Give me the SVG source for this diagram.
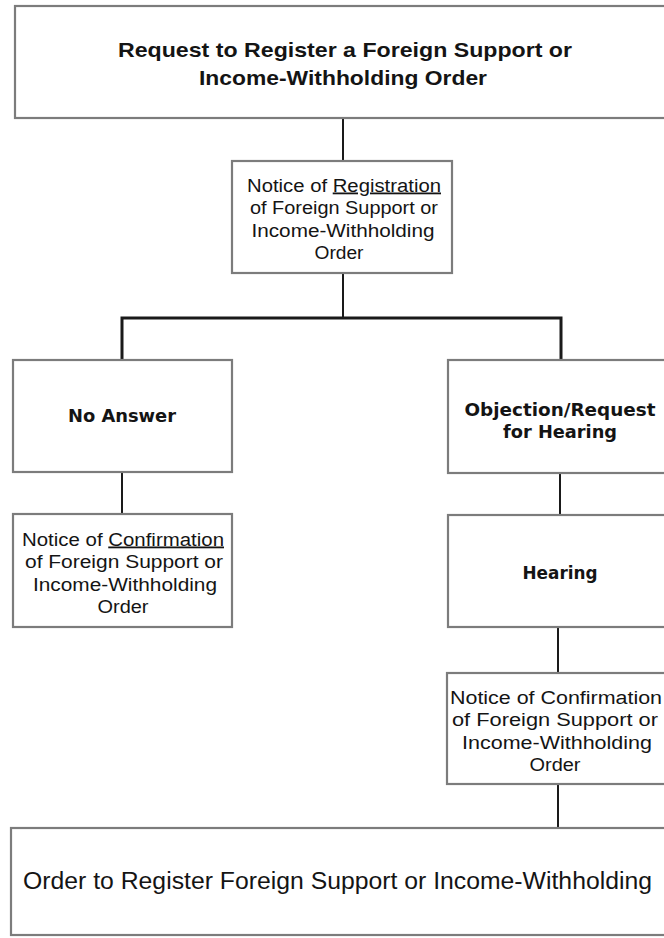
<svg xmlns="http://www.w3.org/2000/svg" width="664" height="938" viewBox="0 0 664 938">
<style>
.box{fill:#fff;stroke:#7c7c7c;stroke-width:2.2}
.conn{stroke:#1a1a1a;stroke-width:2;fill:none}
.bar{stroke:#1a1a1a;stroke-width:3;fill:none}
.t{font-family:"Liberation Sans",Arial,sans-serif;fill:#141414;text-anchor:middle}
.big{font-size:21px;font-weight:bold}
.bot{font-size:23px}
.sm{font-size:18px}
.lbl{font-family:"DejaVu Sans",Verdana,sans-serif;font-size:17px;font-weight:bold;fill:#141414;text-anchor:middle}
.u{text-decoration:underline}
</style>
<rect width="664" height="938" fill="#fff"/>
<g id="connectors">
<line class="conn" x1="343" y1="118" x2="343" y2="161"/>
<line class="conn" x1="343" y1="273" x2="343" y2="318"/>
<polyline class="bar" points="122,360 122,318 561,318 561,360"/>
<line class="conn" x1="122" y1="472" x2="122" y2="514"/>
<line class="conn" x1="560" y1="473" x2="560" y2="515"/>
<line class="conn" x1="558" y1="627" x2="558" y2="673"/>
<line class="conn" x1="558" y1="784" x2="558" y2="828"/>
</g>
<g id="request">
<rect class="box" x="15" y="6" width="670" height="112"/>
<text class="t big" x="345" y="57" textLength="454" lengthAdjust="spacingAndGlyphs">Request to Register a Foreign Support or</text>
<text class="t big" x="343" y="85" textLength="288" lengthAdjust="spacingAndGlyphs">Income-Withholding Order</text>
</g>
<g id="notice-registration">
<rect class="box" x="232" y="161" width="220" height="112"/>
<text class="t sm" x="344" y="191.5" textLength="194" lengthAdjust="spacingAndGlyphs">Notice of <tspan class="u">Registration</tspan></text>
<text class="t sm" x="344" y="214" textLength="188" lengthAdjust="spacingAndGlyphs">of Foreign Support or</text>
<text class="t sm" x="343" y="236.5" textLength="183" lengthAdjust="spacingAndGlyphs">Income-Withholding</text>
<text class="t sm" x="339" y="259" textLength="49" lengthAdjust="spacingAndGlyphs">Order</text>
</g>
<g id="no-answer">
<rect class="box" x="13" y="360" width="219" height="112"/>
<text class="lbl" x="122" y="422" textLength="108" lengthAdjust="spacingAndGlyphs">No Answer</text>
</g>
<g id="objection">
<rect class="box" x="448" y="360" width="230" height="113"/>
<text class="lbl" x="560" y="416" textLength="191" lengthAdjust="spacingAndGlyphs">Objection/Request</text>
<text class="lbl" x="560" y="438" textLength="114" lengthAdjust="spacingAndGlyphs">for Hearing</text>
</g>
<g id="notice-confirmation-left">
<rect class="box" x="13" y="514" width="219" height="113"/>
<text class="t sm" x="123" y="545.5" textLength="202" lengthAdjust="spacingAndGlyphs">Notice of <tspan class="u">Confirmation</tspan></text>
<text class="t sm" x="124" y="568" textLength="198" lengthAdjust="spacingAndGlyphs">of Foreign Support or</text>
<text class="t sm" x="125" y="590.5" textLength="184" lengthAdjust="spacingAndGlyphs">Income-Withholding</text>
<text class="t sm" x="123" y="613" textLength="51" lengthAdjust="spacingAndGlyphs">Order</text>
</g>
<g id="hearing">
<rect class="box" x="448" y="515" width="230" height="112"/>
<text class="lbl" x="560" y="579" textLength="75" lengthAdjust="spacingAndGlyphs">Hearing</text>
</g>
<g id="notice-confirmation-right">
<rect class="box" x="447" y="673" width="230" height="111"/>
<text class="t sm" x="556" y="703.5" textLength="212" lengthAdjust="spacingAndGlyphs">Notice of Confirmation</text>
<text class="t sm" x="555" y="726" textLength="206" lengthAdjust="spacingAndGlyphs">of Foreign Support or</text>
<text class="t sm" x="557" y="748.5" textLength="190" lengthAdjust="spacingAndGlyphs">Income-Withholding</text>
<text class="t sm" x="555" y="771" textLength="51" lengthAdjust="spacingAndGlyphs">Order</text>
</g>
<g id="order">
<rect class="box" x="11" y="828" width="670" height="107"/>
<text class="t bot" x="337.5" y="889" textLength="629" lengthAdjust="spacingAndGlyphs">Order to Register Foreign Support or Income-Withholding</text>
</g>
</svg>
